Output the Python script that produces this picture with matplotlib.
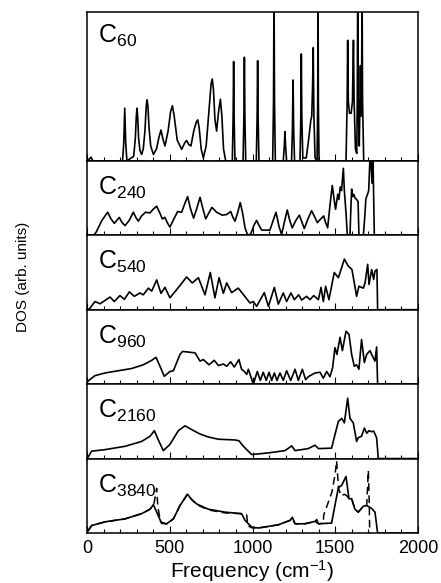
"""Phonon DOS of carbon clusters C60 ... C3840, stacked panels"""

import matplotlib
matplotlib.use("Agg")
import matplotlib.pyplot as plt
from matplotlib.ticker import MultipleLocator

# values: (frequency cm^-1, DOS in panel-height units)
c60 = [(0, 0), (12, 0.01), (24, 0.025), (36, 0), (215, 0), (222, 0.12), (228, 0.354), (234, 0.12), (241, 0),
       (282, 0.03), (292, 0.15), (298, 0.3), (302, 0.354), (306, 0.3), (312, 0.15), (320, 0.07), (330, 0.043),
       (340, 0.08), (350, 0.2), (358, 0.37), (363, 0.41), (368, 0.37), (375, 0.22), (385, 0.1), (401, 0.043),
       (420, 0.08), (435, 0.16), (447, 0.207), (458, 0.15), (471, 0.1), (490, 0.2), (505, 0.33), (516, 0.37),
       (527, 0.3), (545, 0.14), (572, 0.077), (590, 0.12), (602, 0.137), (615, 0.11), (628, 0.1), (645, 0.2),
       (660, 0.26), (669, 0.275), (678, 0.22), (690, 0.08), (703, 0.02), (720, 0.1), (740, 0.38), (750, 0.52),
       (757, 0.55), (764, 0.48), (773, 0.28), (783, 0.2), (795, 0.33), (806, 0.414), (815, 0.3), (825, 0.08),
       (838, 0), (878, 0), (883, 0.3), (886, 0.667), (889, 0.3), (894, 0),
       (943, 0), (948, 0.3), (951, 0.696), (954, 0.3), (959, 0),
       (1023, 0), (1028, 0.3), (1031, 0.673), (1034, 0.3), (1039, 0),
       (1122, 0), (1127, 0.4), (1130, 1.2), (1133, 0.4), (1138, 0),
       (1186, 0), (1192, 0.1), (1196, 0.196), (1200, 0.1), (1206, 0),
       (1236, 0), (1241, 0.2), (1245, 0.543), (1249, 0.2), (1254, 0),
       (1287, 0), (1292, 0.3), (1295, 0.718), (1298, 0.3), (1304, 0.02), (1325, 0.02), (1340, 0.15),
       (1352, 0.27), (1358, 0.3), (1363, 0.5), (1367, 0.76), (1371, 0.3), (1378, 0.02),
       (1390, 0), (1394, 0.4), (1396, 1.2), (1398, 0.4), (1402, 0),
       (1565, 0), (1572, 0.4), (1575, 0.81), (1579, 0.4), (1586, 0.32), (1596, 0.32), (1604, 0.4),
       (1610, 0.81), (1614, 0.4), (1622, 0.08), (1630, 0.05), (1633, 0.4), (1636, 1.2), (1639, 0.4),
       (1645, 0.1), (1648, 0.3), (1652, 0.64), (1656, 0.3), (1659, 0.4), (1662, 1.2), (1665, 0.4),
       (1672, 0), (2000, 0)]

c240 = [(0, 0), (40, 0), (55, 0.04), (90, 0.2), (125, 0.31), (145, 0.22), (165, 0.16), (195, 0.24),
        (212, 0.17), (230, 0.13), (255, 0.2), (280, 0.31), (295, 0.24), (310, 0.19), (330, 0.26),
        (354, 0.31), (380, 0.3), (400, 0.35), (421, 0.39), (440, 0.3), (455, 0.22), (471, 0.24),
        (485, 0.17), (501, 0.11), (525, 0.22), (548, 0.32), (572, 0.31), (590, 0.42), (608, 0.52),
        (625, 0.36), (644, 0.23), (662, 0.35), (683, 0.51), (700, 0.36), (717, 0.22), (736, 0.3),
        (755, 0.375), (783, 0.31), (818, 0.27), (845, 0.28), (868, 0.32), (882, 0.24), (894, 0.19),
        (910, 0.3), (926, 0.44), (940, 0.3), (955, 0.1), (971, 0.0), (990, 0.02), (1008, 0.13),
        (1025, 0.2), (1040, 0.13), (1055, 0.07), (1105, 0.07), (1125, 0.2), (1142, 0.31), (1160, 0.12),
        (1176, 0.01), (1193, 0.18), (1210, 0.34), (1225, 0.2), (1240, 0.1), (1262, 0.2), (1283, 0.27),
        (1300, 0.17), (1313, 0.09), (1335, 0.22), (1357, 0.33), (1375, 0.25), (1392, 0.17), (1404, 0.2),
        (1430, 0.26), (1442, 0.17), (1454, 0.1), (1468, 0.4), (1482, 0.67), (1492, 0.5), (1502, 0.35),
        (1515, 0.55), (1522, 0.48), (1530, 0.65), (1538, 0.6), (1549, 0.9), (1555, 0.6), (1565, 0.3),
        (1573, 0.0), (1589, 0.0), (1595, 0.4), (1599, 0.62), (1605, 0.52), (1612, 0.55), (1620, 0.5),
        (1630, 0.48), (1638, 0.45), (1643, 0.0), (1670, 0.0), (1680, 0.3), (1685, 0.49), (1695, 0.55),
        (1702, 0.6), (1710, 1.05), (1716, 0.98), (1722, 0.7), (1728, 1.05), (1736, 0.0), (2000, 0)]

c540 = [(5, 0), (18, 0.02), (48, 0.11), (79, 0.08), (139, 0.17), (165, 0.11), (199, 0.19), (226, 0.14),
        (256, 0.24), (286, 0.18), (320, 0.225), (340, 0.2), (371, 0.29), (391, 0.25), (421, 0.4),
        (447, 0.22), (471, 0.3), (501, 0.16), (542, 0.27), (602, 0.44), (636, 0.36), (673, 0.43),
        (713, 0.2), (745, 0.5), (773, 0.16), (798, 0.43), (824, 0.22), (844, 0.36), (874, 0.23),
        (914, 0.29), (985, 0.09), (1005, 0.11), (1025, 0.045), (1071, 0.23), (1096, 0.045), (1132, 0.3),
        (1156, 0.075), (1186, 0.225), (1206, 0.11), (1232, 0.225), (1253, 0.135), (1279, 0.2),
        (1297, 0.13), (1327, 0.18), (1347, 0.135), (1370, 0.19), (1398, 0.135), (1414, 0.3),
        (1428, 0.11), (1442, 0.315), (1462, 0.135), (1494, 0.5), (1519, 0.43), (1555, 0.68),
        (1579, 0.585), (1601, 0.54), (1629, 0.18), (1643, 0.315), (1670, 0.29), (1680, 0.36),
        (1696, 0.61), (1704, 0.34), (1720, 0.54), (1732, 0.405), (1740, 0.52), (1752, 0.54),
        (1756, 0), (2000, 0)]

c960 = [(0, 0.02), (8, 0.045), (48, 0.114), (109, 0.15), (189, 0.18), (270, 0.21), (340, 0.26),
        (391, 0.32), (417, 0.36), (441, 0.24), (467, 0.105), (501, 0.17), (522, 0.18), (562, 0.4),
        (578, 0.44), (653, 0.42), (683, 0.31), (703, 0.33), (737, 0.26), (769, 0.32), (794, 0.25),
        (824, 0.27), (844, 0.24), (868, 0.3), (890, 0.23), (918, 0.33), (934, 0.2), (951, 0.17),
        (965, 0.13), (975, 0.2), (1005, 0), (1029, 0.17), (1047, 0.05), (1065, 0.16), (1083, 0.05),
        (1100, 0.16), (1116, 0.05), (1132, 0.15), (1148, 0.05), (1166, 0.15), (1186, 0.05),
        (1206, 0.18), (1231, 0.05), (1257, 0.2), (1277, 0.05), (1301, 0.2), (1321, 0.06),
        (1337, 0.1), (1378, 0.15), (1408, 0.16), (1428, 0.08), (1448, 0.17), (1468, 0.1),
        (1484, 0.22), (1498, 0.49), (1510, 0.4), (1529, 0.63), (1543, 0.45), (1565, 0.71),
        (1583, 0.67), (1599, 0.4), (1615, 0.24), (1629, 0.26), (1643, 0.2), (1659, 0.6),
        (1676, 0.29), (1690, 0.4), (1710, 0.45), (1724, 0.38), (1740, 0.31), (1750, 0.5),
        (1756, 0), (2000, 0)]

c2160 = [(0, 0), (4, 0.01), (28, 0.1), (109, 0.12), (230, 0.165), (330, 0.23), (381, 0.3), (407, 0.375),
         (431, 0.25), (461, 0.107), (501, 0.19), (552, 0.375), (592, 0.44), (632, 0.39), (683, 0.33),
         (733, 0.29), (794, 0.26), (894, 0.25), (918, 0.24), (945, 0.165), (995, 0.054), (1096, 0.076),
         (1196, 0.107), (1237, 0.17), (1257, 0.107), (1337, 0.134), (1378, 0.18), (1398, 0.134),
         (1478, 0.14), (1498, 0.32), (1519, 0.5), (1539, 0.54), (1555, 0.48), (1575, 0.81),
         (1589, 0.54), (1609, 0.48), (1629, 0.23), (1639, 0.28), (1659, 0.3), (1676, 0.41),
         (1690, 0.34), (1704, 0.375), (1720, 0.36), (1732, 0.37), (1750, 0.28), (1760, 0), (2000, 0)]

c3840 = [(0, 0), (8, 0.035), (28, 0.1), (109, 0.15), (230, 0.19), (330, 0.26), (381, 0.32), (401, 0.38),
         (421, 0.28), (451, 0.13), (481, 0.124), (522, 0.19), (562, 0.37), (592, 0.47), (608, 0.52),
         (628, 0.46), (663, 0.39), (733, 0.32), (834, 0.28), (934, 0.26), (955, 0.17), (995, 0.08),
         (1035, 0.067), (1156, 0.11), (1227, 0.17), (1241, 0.21), (1257, 0.124), (1317, 0.124),
         (1378, 0.156), (1388, 0.18), (1398, 0.124), (1478, 0.133), (1498, 0.37), (1519, 0.61),
         (1539, 0.64), (1565, 0.76), (1583, 0.46), (1599, 0.46), (1619, 0.32), (1639, 0.28),
         (1670, 0.36), (1690, 0.37), (1720, 0.33), (1740, 0.28), (1756, 0), (2000, 0)]

# second (dashed) curve in the C3840 panel
c3840_dashed = [(8, 0.035), (28, 0.1), (109, 0.15), (230, 0.19), (330, 0.26), (381, 0.32), (405, 0.4),
                (421, 0.6), (428, 0.35), (445, 0.15), (481, 0.12), (522, 0.19), (562, 0.37), (592, 0.47),
                (608, 0.53), (628, 0.46), (663, 0.38), (733, 0.31), (834, 0.27), (930, 0.26), (965, 0.24),
                (971, 0.1), (995, 0.07), (1035, 0.067), (1156, 0.11), (1227, 0.17), (1241, 0.2),
                (1257, 0.124), (1317, 0.124), (1378, 0.156), (1398, 0.124), (1428, 0.13), (1430, 0.24),
                (1480, 0.55), (1500, 0.8), (1508, 0.97), (1520, 0.6), (1535, 0.5), (1555, 0.52),
                (1570, 0.5), (1583, 0.46), (1599, 0.46), (1619, 0.32), (1639, 0.28), (1670, 0.36),
                (1690, 0.37), (1700, 0.84), (1706, 0.35), (1708, 0.0)]

panels = [("60", c60), ("240", c240), ("540", c540), ("960", c960), ("2160", c2160), ("3840", c3840)]
xticks = [0, 500, 1000, 1500, 2000]

plt.rcParams["font.family"] = ["Liberation Sans", "DejaVu Sans"]
plt.rcParams["mathtext.fontset"] = "custom"
plt.rcParams["mathtext.rm"] = "Liberation Sans"
plt.rcParams["mathtext.it"] = "Liberation Sans"

W, H = 441, 583
fig = plt.figure(figsize=(W / 100, H / 100), dpi=100)
gs = fig.add_gridspec(6, 1, height_ratios=[2, 1, 1, 1, 1, 1], hspace=0,
                      left=87 / W, right=418 / W, top=1 - 12 / H, bottom=1 - 533 / H)

axes = []
for i, (n, data) in enumerate(panels):
    ax = fig.add_subplot(gs[i], sharex=axes[0] if axes else None)
    axes.append(ax)
    f, v = zip(*data)
    ax.plot(f, v, color="black", lw=1.2)
    if n == "3840":
        fd, vd = zip(*c3840_dashed)
        ax.plot(fd, vd, color="black", lw=1.1, ls=(0, (5, 3)))
    ax.set_ylim(0, 1)
    ax.set_yticks([])
    for s in ax.spines.values():
        s.set_linewidth(1.1)
    ax.annotate(rf"$\mathregular{{C_{{{n}}}}}$", xy=(0, 1), xycoords="axes fraction",
                xytext=(8, -8 if i == 0 else -10), textcoords="offset points",
                ha="left", va="top", fontsize=18)
    ax.tick_params(axis="x", which="both", direction="in", top=False, width=0.8)
    ax.tick_params(axis="x", which="major", length=5, labelsize=13, pad=5)
    ax.tick_params(axis="x", which="minor", length=3)
    if i < len(panels) - 1:
        ax.tick_params(axis="x", labelbottom=False)

ax = axes[-1]
ax.set_xlim(0, 2000)
ax.set_xticks(xticks)
ax.xaxis.set_minor_locator(MultipleLocator(100))
ax.set_xlabel(r"Frequency (cm$\mathregular{^{-1}}$)", fontsize=15, labelpad=1)

fig.text(23 / W, 1 - 277 / H, "DOS (arb. units)", rotation=90, ha="center", va="center", fontsize=11)

fig.savefig("out.png", dpi=100, facecolor="white")
plt.close(fig)
